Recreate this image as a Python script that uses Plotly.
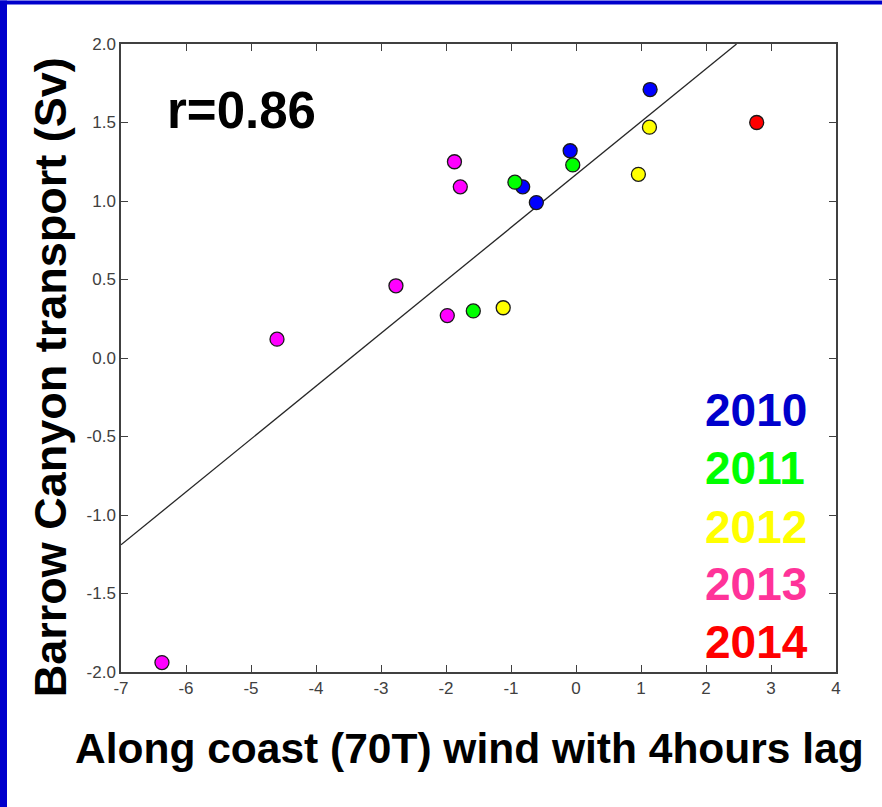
import plotly.graph_objects as go

# ---- data ----
x_2010 = [1.14, -0.09, -0.82, -0.61]
y_2010 = [1.71, 1.32, 1.09, 0.99]
x_2011 = [-0.94, -0.05, -1.58]
y_2011 = [1.12, 1.23, 0.30]
x_2012 = [1.13, 0.96, -1.12]
y_2012 = [1.47, 1.17, 0.32]
x_2013 = [-1.87, -1.78, -2.77, -1.98, -4.60, -6.37]
y_2013 = [1.25, 1.09, 0.46, 0.27, 0.12, -1.94]
x_2014 = [2.78]
y_2014 = [1.50]
fit_x = [-7.0, 2.47]
fit_y = [-1.19, 2.0]
x_ticks = [-7, -6, -5, -4, -3, -2, -1, 0, 1, 2, 3, 4]
y_ticks = [2.0, 1.5, 1.0, 0.5, 0.0, -0.5, -1.0, -1.5, -2.0]
y_tick_labels = ["2.0", "1.5", "1.0", "0.5", "0.0", "-0.5", "-1.0", "-1.5", "-2.0"]
years = ["2010", "2011", "2012", "2013", "2014"]

marker_colors = ["#0000FF", "#00FF00", "#FFFF00", "#FF00FF", "#FF0000"]
label_colors = ["#0000CC", "#00FF00", "#FFFF00", "#FF3399", "#FF0000"]
FONT = "Arial, Liberation Sans, Helvetica, sans-serif"

W, H = 882, 807
L, R, T, B = 121, 46, 43.5, 135
pw, ph = W - L - R, H - T - B

def px_x(p):
    return (p - L) / pw

def px_y(p):
    return 1 - (p - T) / ph

fig = go.Figure()
fig.add_trace(go.Scatter(x=fit_x, y=fit_y, mode="lines",
                         line=dict(color="#262626", width=1.3),
                         hoverinfo="skip", showlegend=False))
series = [(x_2010, y_2010), (x_2011, y_2011), (x_2012, y_2012),
          (x_2013, y_2013), (x_2014, y_2014)]
for (xs, ys), c, yr in zip(series, marker_colors, years):
    fig.add_trace(go.Scatter(x=xs, y=ys, mode="markers", name=yr,
                             marker=dict(size=14, color=c,
                                         line=dict(color="#1a1a1a", width=1.3)),
                             showlegend=False))

axis_common = dict(showgrid=False, zeroline=False, showline=True,
                   linecolor="#404040", linewidth=1.5, mirror="ticks",
                   ticks="inside", ticklen=7, tickwidth=1.2, tickcolor="#404040",
                   tickfont=dict(family=FONT, size=17, color="#404040"))
fig.update_xaxes(range=[-7, 4], tickvals=x_ticks,
                 ticktext=[str(v) for v in x_ticks], **axis_common)
fig.update_yaxes(range=[-2, 2], tickvals=y_ticks, ticktext=y_tick_labels,
                 **axis_common)

annotations = [
    dict(text="<b>r=0.86</b>", x=px_x(165), y=px_y(110), xref="paper", yref="paper",
         xanchor="left", yanchor="middle", showarrow=False,
         font=dict(family=FONT, size=51, color="black")),
    dict(text="<b>Along coast (70T) wind with 4hours lag</b>", x=px_x(469.5), y=px_y(749),
         xref="paper", yref="paper", xanchor="center", yanchor="middle", showarrow=False,
         font=dict(family=FONT, size=42.5, color="black")),
    dict(text="<b>Barrow Canyon transport (Sv)</b>", x=px_x(50), y=px_y(377),
         xref="paper", yref="paper", xanchor="center", yanchor="middle", showarrow=False,
         textangle=-90, font=dict(family=FONT, size=45, color="black")),
]
for yr, c, py in zip(years, label_colors, [410, 468, 527, 584, 642]):
    annotations.append(dict(text="<b>" + yr + "</b>", x=px_x(703), y=px_y(py),
                            xref="paper", yref="paper", xanchor="left", yanchor="middle",
                            showarrow=False, font=dict(family=FONT, size=46, color=c)))

shapes = [
    dict(type="rect", xref="paper", yref="paper", x0=px_x(0), x1=px_x(7),
         y0=px_y(H), y1=px_y(0), fillcolor="#0000CC", line=dict(width=0), layer="above"),
    dict(type="rect", xref="paper", yref="paper", x0=px_x(0), x1=px_x(W),
         y0=px_y(4), y1=px_y(0), fillcolor="#0000CC", line=dict(width=0), layer="above"),
]

fig.update_layout(width=W, height=H, margin=dict(l=L, r=R, t=T, b=B, pad=0),
                  plot_bgcolor="white", paper_bgcolor="white",
                  annotations=annotations, shapes=shapes, showlegend=False)

fig.write_html("out.html", config={"displayModeBar": False},
               post_script="document.body.style.margin='0px';"
                           "document.body.style.overflow='hidden';")
